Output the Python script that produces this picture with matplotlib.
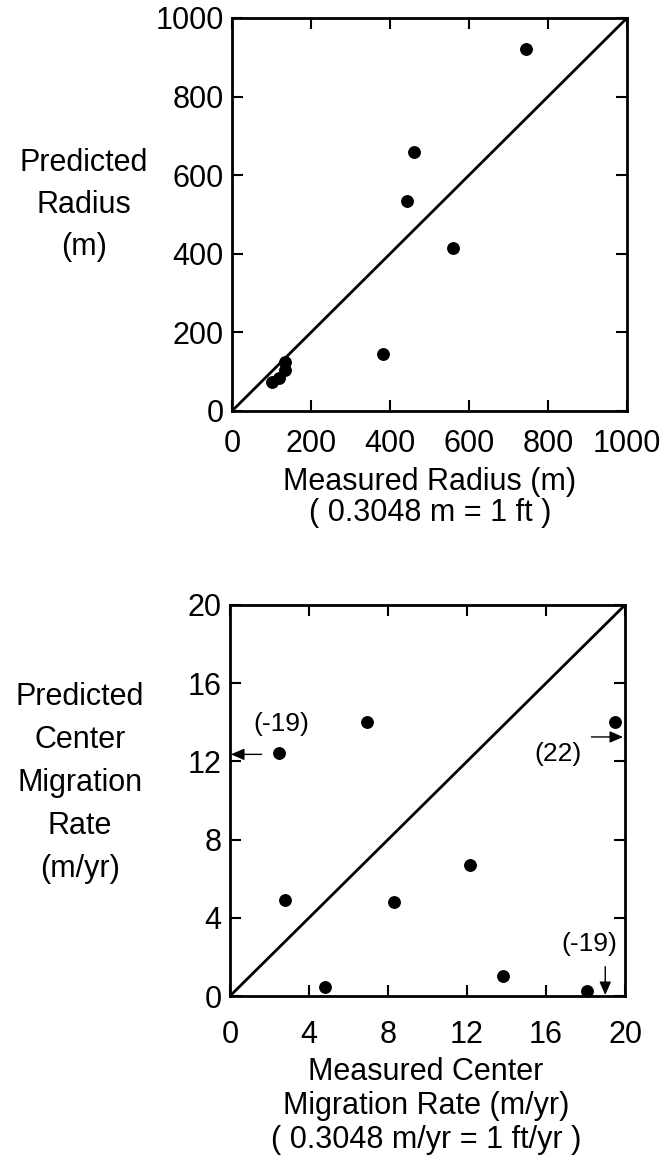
import matplotlib
matplotlib.use("Agg")
import matplotlib.pyplot as plt

plt.rcParams['font.family'] = ['Liberation Sans', 'DejaVu Sans']

# Radio medido vs predicho (m)
radio_medido = [745, 461, 443, 560, 382, 135, 135, 118, 100]
radio_predicho = [920, 660, 534, 415, 145, 125, 105, 85, 75]
radio_ticks = [0, 200, 400, 600, 800, 1000]

# Tasa de migracion del centro (m/yr)
tasa_medida = [6.95, 2.5, 19.5, 2.8, 8.3, 12.15, 4.8, 13.8, 18.1]
tasa_predicha = [14.0, 12.45, 14.0, 4.9, 4.8, 6.7, 0.45, 1.0, 0.25]
tasa_ticks = [0, 4, 8, 12, 16, 20]

# Valores fuera de escala: texto, posicion del texto, inicio y fin de la flecha
fuera_texto = ["(-19)", "(22)", "(-19)"]
fuera_texto_xy = [(2.6, 13.9), (16.6, 12.4), (18.2, 2.65)]
fuera_desde = [(1.6, 12.36), (18.3, 13.25), (19.0, 1.5)]
fuera_hasta = [(0.05, 12.36), (19.9, 13.25), (19.0, 0.05)]

# Textos de los ejes
ylab_arriba = ["Predicted", "Radius", "(m)"]
xlab_arriba = ["Measured Radius (m)", "( 0.3048 m = 1 ft )"]
ylab_abajo = ["Predicted", "Center", "Migration", "Rate", "(m/yr)"]
xlab_abajo = ["Measured Center", "Migration Rate (m/yr)", "( 0.3048 m/yr = 1 ft/yr )"]

W, H = 667, 1163
fig = plt.figure(figsize=(W / 100, H / 100), dpi=100)

FS = 22


def preparar(ax, ticks, xpad):
    lim = (ticks[0], ticks[-1])
    ax.set_xlim(lim)
    ax.set_ylim(lim)
    ax.set_xticks(ticks)
    ax.set_yticks(ticks)
    ax.tick_params(direction='in', length=8, width=1.5, top=True, right=True,
                   labelsize=FS)
    ax.tick_params(axis='x', pad=xpad)
    ax.tick_params(axis='y', pad=6)
    for s in ax.spines.values():
        s.set_linewidth(2)
    ax.plot(lim, lim, color='black', lw=2)


def texto(x, y, s, size=FS):
    fig.text(x / W, 1 - y / H, s, fontsize=size, ha='center', va='center')


ax1 = fig.add_axes([232 / W, 1 - 411 / H, 395 / W, 393 / H])
preparar(ax1, radio_ticks, 13)
ax1.scatter(radio_medido, radio_predicho, s=68, color='black', zorder=3)

ax2 = fig.add_axes([230 / W, 1 - 996 / H, 395 / W, 391 / H])
preparar(ax2, tasa_ticks, 17)
ax2.scatter(tasa_medida, tasa_predicha, s=68, color='black', zorder=3, clip_on=False)

for txt, pos in zip(fuera_texto, fuera_texto_xy):
    ax2.text(pos[0], pos[1], txt, fontsize=19, ha='center', va='center')
for a, b in zip(fuera_desde, fuera_hasta):
    ax2.annotate('', xy=b, xytext=a,
                 arrowprops=dict(arrowstyle='-|>,head_length=0.8,head_width=0.35',
                                 color='black', lw=1.0, shrinkA=0, shrinkB=0))

# Etiquetas del grafico de arriba
for i, s in enumerate(ylab_arriba):
    texto(84, 163 + 42 * i, s)
for i, s in enumerate(xlab_arriba):
    texto(430, 482 + 31 * i, s)

# Etiquetas del grafico de abajo
for i, s in enumerate(ylab_abajo):
    texto(80, 697 + 43 * i, s)
for i, s in enumerate(xlab_abajo):
    texto(426, 1072 + 34 * i, s)

fig.savefig("out.png", dpi=100)
